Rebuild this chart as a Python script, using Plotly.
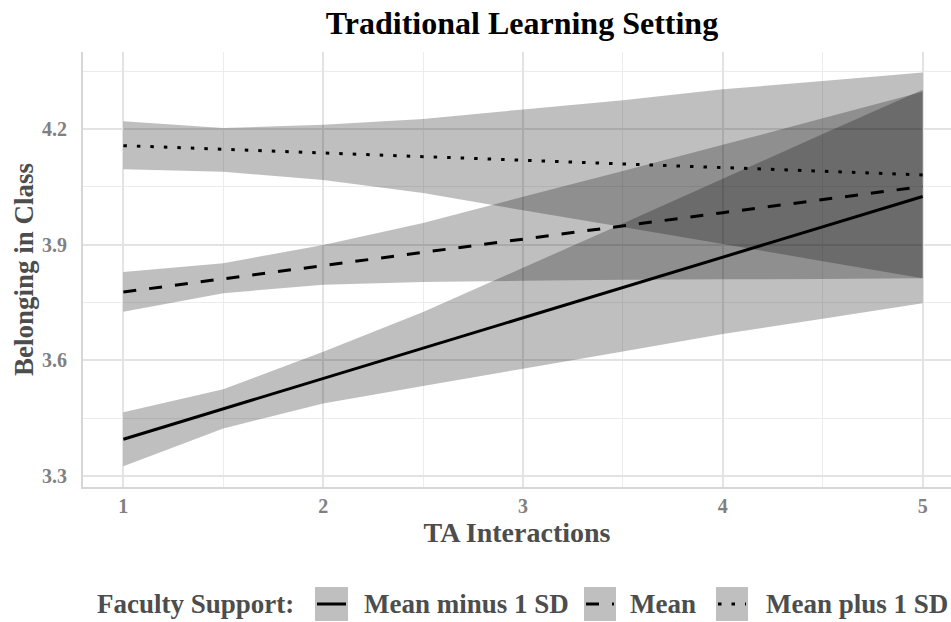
import plotly.graph_objects as go

# Predicted belonging by TA interactions at three levels of faculty support
x_band = [1, 1.5, 2, 2.5, 3, 3.5, 4, 4.5, 5]
x_line = [1, 2, 3, 4, 5]

groups = ["Mean minus 1 SD", "Mean", "Mean plus 1 SD"]

fit_minus = [3.395, 3.553, 3.710, 3.868, 4.025]
fit_mean = [3.777, 3.846, 3.914, 3.983, 4.051]
fit_plus = [4.157, 4.138, 4.119, 4.100, 4.081]

lo_minus = [3.325, 3.423, 3.488, 3.533, 3.578, 3.623, 3.668, 3.708, 3.748]
hi_minus = [3.465, 3.525, 3.622, 3.725, 3.840, 3.955, 4.071, 4.187, 4.302]
lo_mean = [3.726, 3.774, 3.796, 3.803, 3.806, 3.809, 3.810, 3.811, 3.813]
hi_mean = [3.829, 3.852, 3.899, 3.956, 4.024, 4.091, 4.159, 4.228, 4.297]
lo_plus = [4.096, 4.089, 4.068, 4.034, 3.989, 3.946, 3.902, 3.857, 3.813]
hi_plus = [4.220, 4.203, 4.211, 4.226, 4.251, 4.275, 4.303, 4.325, 4.347]

y_ticks = [3.3, 3.6, 3.9, 4.2]
y_minor = [3.45, 3.75, 4.05, 4.35]
x_ticks = [1, 2, 3, 4, 5]
x_minor = [1.5, 2.5, 3.5, 4.5]

fits = [fit_minus, fit_mean, fit_plus]
lows = [lo_minus, lo_mean, lo_plus]
highs = [hi_minus, hi_mean, hi_plus]
dashes = ["solid", "13px,13px", "3.5px,10px"]

FONT = "Liberation Serif"
BAND = "rgba(0,0,0,0.25)"
TXT = "#4d4d4d"
TICK = "#808080"

fig = go.Figure()

# confidence ribbons
for name, lo, hi in zip(groups, lows, highs):
    fig.add_trace(go.Scatter(
        x=x_band + x_band[::-1], y=hi + lo[::-1],
        fill="toself", fillcolor=BAND, mode="none",
        hoverinfo="skip", showlegend=False, name=name,
    ))

# fitted lines
for name, fit, dash in zip(groups, fits, dashes):
    fig.add_trace(go.Scatter(
        x=x_line, y=fit, mode="lines", name=name, showlegend=False,
        line=dict(color="black", width=3, dash=dash),
    ))

# plot area in pixels: left 83, right 951, top 52, bottom 487
L, R, T, B = 83, 951, 52, 487


def px(xp):
    return (xp - L) / (R - L)


def py(yp):
    return (B - yp) / (B - T)


# legend drawn below the panel
legend_y = 604
annotations = [
    dict(text="Faculty Support:", x=px(95), y=py(legend_y)),
    dict(text=groups[0], x=px(362), y=py(legend_y)),
    dict(text=groups[1], x=px(628), y=py(legend_y)),
    dict(text=groups[2], x=px(764), y=py(legend_y)),
]
for a in annotations:
    a.update(xref="paper", yref="paper", xanchor="left", yanchor="middle",
             showarrow=False,
             font=dict(family=FONT, size=27, color=TXT, weight="bold"))

shapes = []
keys = [(315, 348), (584, 616), (716, 748)]
for (k0, k1), dash in zip(keys, dashes):
    shapes.append(dict(type="rect", xref="paper", yref="paper",
                       x0=px(k0), x1=px(k1), y0=py(621), y1=py(587),
                       fillcolor=BAND, line=dict(width=0), layer="above"))
    shapes.append(dict(type="line", xref="paper", yref="paper",
                       x0=px(k0 + 2), x1=px(k1 - 2), y0=py(legend_y), y1=py(legend_y),
                       line=dict(color="black", width=3, dash=dash), layer="above"))

fig.update_layout(
    width=951, height=622,
    margin=dict(l=L, r=951 - R, t=T, b=622 - B),
    paper_bgcolor="white", plot_bgcolor="white",
    title=dict(text="Traditional Learning Setting", x=522 / 951, xref="container",
               xanchor="center", y=1 - 23 / 622, yanchor="middle",
               font=dict(family=FONT, size=32, color="black", weight="bold")),
    annotations=annotations,
    shapes=shapes,
    showlegend=False,
)

fig.update_xaxes(
    range=[0.798, 5.142], tickvals=x_ticks, ticks="", ticklabelstandoff=0,
    tickfont=dict(family=FONT, size=20, color=TICK, weight="bold"),
    showgrid=True, gridcolor="#e3e3e3", gridwidth=2, zeroline=False,
    showline=True, linecolor="#d6d6d6", linewidth=2,
    minor=dict(tickvals=x_minor, showgrid=True, gridcolor="#ececec", gridwidth=1.2),
    title=dict(text="TA Interactions", standoff=2,
               font=dict(family=FONT, size=28, color=TXT, weight="bold")),
)
fig.update_yaxes(
    range=[3.271, 4.400], tickvals=y_ticks, ticks="", ticklabelstandoff=10,
    tickfont=dict(family=FONT, size=20, color=TICK, weight="bold"),
    showgrid=True, gridcolor="#e3e3e3", gridwidth=2, zeroline=False,
    showline=True, linecolor="#d6d6d6", linewidth=2,
    minor=dict(tickvals=y_minor, showgrid=True, gridcolor="#ececec", gridwidth=1.2),
    title=dict(text="Belonging in Class", standoff=1,
               font=dict(family=FONT, size=27, color=TXT, weight="bold")),
)

fig.write_html("out.html")
